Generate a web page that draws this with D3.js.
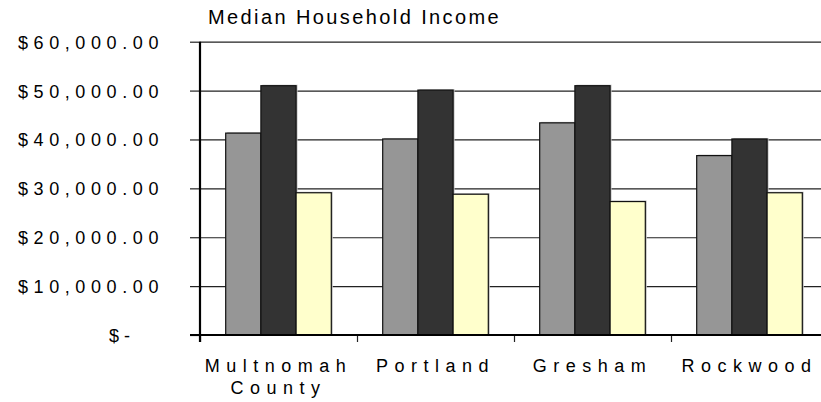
<!DOCTYPE html>
<html>
<head>
<meta charset="utf-8">
<script src="https://cdn.jsdelivr.net/npm/d3@7"></script>
<style>
  html, body { margin: 0; padding: 0; background: #fff; }
  svg { display: block; font-family: "Liberation Sans", Arial, sans-serif; }
</style>
</head>
<body>
<svg id="chart" width="821" height="402"></svg>
<script>
// data
const title = 'Median Household Income';
const categories = ['Multnomah County', 'Portland', 'Gresham', 'Rockwood'];
const seriesNames = ['A', 'B', 'C'];
const seriesA = [41300, 40100, 43400, 36700];
const seriesB = [51000, 50100, 51000, 40100];
const seriesC = [29100, 28800, 27300, 29100];
const yTicks = [0, 10000, 20000, 30000, 40000, 50000, 60000];
const colors = ['#969696', '#333333', '#ffffcc'];

const rows = categories.map((c, i) => ({
    category: c,
    values: [seriesA[i], seriesB[i], seriesC[i]]
}));

const plotLeft = 200, plotBottom = 335, plotTop = 41.7, catWidth = 157;
const plotRight = plotLeft + catWidth * categories.length;

const svg = d3.select('#chart');

const y = d3.scaleLinear().domain([0, 60000]).range([plotBottom, plotTop]);
const x0 = d3.scaleBand().domain(categories).range([plotLeft, plotRight]).padding(0);
const x1 = d3.scaleBand().domain(seriesNames).range([0, x0.bandwidth()])
    .paddingInner(0).paddingOuter(0.73);
const boundaries = d3.scaleLinear().domain([0, categories.length]).range([plotLeft, plotRight]);

// gridlines
svg.append('g')
    .attr('transform', `translate(${plotLeft},0)`)
    .call(d3.axisLeft(y).tickValues(yTicks).tickSize(-(plotRight - plotLeft)).tickFormat(''))
    .call(g => g.select('.domain').remove())
    .call(g => g.selectAll('line').attr('stroke', '#222').attr('stroke-width', 1.2));

// y axis with labels
const money = d3.format(',.2f');
svg.append('g')
    .attr('transform', `translate(${plotLeft},0)`)
    .call(d3.axisLeft(y).tickValues(yTicks).tickSize(10).tickPadding(26)
        .tickFormat(d => d === 0 ? '$ -' : '$' + money(d)))
    .call(g => g.select('.domain').remove())
    .call(g => g.selectAll('line').attr('stroke', '#222').attr('stroke-width', 1.2))
    .call(g => g.selectAll('text')
        .attr('font-size', 18)
        .attr('font-family', '"Liberation Sans", Arial, sans-serif')
        .attr('fill', '#000')
        .attr('letter-spacing', d => d === 0 ? 0 : 5.6)
        .attr('dy', '0.36em')
        .attr('dx', d => d === 0 ? -34 : 0));

// bars
const groups = svg.append('g').selectAll('g').data(rows).join('g')
    .attr('transform', d => `translate(${x0(d.category)},0)`);

groups.selectAll('.shadow').data(d => d.values).join('rect')
    .attr('class', 'shadow')
    .attr('x', (d, i) => x1(seriesNames[i]) + 1.5)
    .attr('y', d => y(d) - 1)
    .attr('width', x1.bandwidth())
    .attr('height', d => plotBottom - y(d) + 1)
    .attr('fill', '#c4c4c4');

groups.selectAll('.bar').data(d => d.values).join('rect')
    .attr('class', 'bar')
    .attr('x', (d, i) => x1(seriesNames[i]))
    .attr('y', d => y(d))
    .attr('width', x1.bandwidth())
    .attr('height', d => plotBottom - y(d))
    .attr('fill', (d, i) => colors[i])
    .attr('stroke', '#111')
    .attr('stroke-width', 1.2);

// category boundary ticks + axis lines
svg.append('g')
    .attr('transform', `translate(0,${plotBottom})`)
    .call(d3.axisBottom(boundaries).ticks(categories.length).tickSize(7).tickFormat(''))
    .call(g => g.select('.domain').remove())
    .call(g => g.selectAll('line').attr('stroke', '#222').attr('stroke-width', 1.2));

svg.append('line')
    .attr('x1', plotLeft - 10).attr('x2', plotRight)
    .attr('y1', plotBottom).attr('y2', plotBottom)
    .attr('stroke', '#000').attr('stroke-width', 2.2);

svg.append('line')
    .attr('x1', plotLeft).attr('x2', plotLeft)
    .attr('y1', plotTop).attr('y2', plotBottom + 7)
    .attr('stroke', '#000').attr('stroke-width', 2.2);

// category labels
svg.append('g')
    .attr('transform', `translate(0,${plotBottom})`)
    .call(d3.axisBottom(x0).tickSize(0).tickPadding(24))
    .call(g => g.select('.domain').remove())
    .call(g => g.selectAll('text')
        .attr('font-size', 18)
        .attr('font-family', '"Liberation Sans", Arial, sans-serif')
        .attr('fill', '#000')
        .attr('letter-spacing', 6.5)
        .each(function (d) {
            const words = d.split(' ');
            const text = d3.select(this).text(null);
            words.forEach((w, i) => {
                text.append('tspan')
                    .attr('x', 0)
                    .attr('dy', i === 0 ? '0.71em' : 22)
                    .text(w);
            });
        }));

// title
svg.append('text')
    .attr('x', 208)
    .attr('y', 23.5)
    .attr('font-size', 20)
    .attr('letter-spacing', 2.4)
    .attr('fill', '#000')
    .text(title);
</script>
</body>
</html>
